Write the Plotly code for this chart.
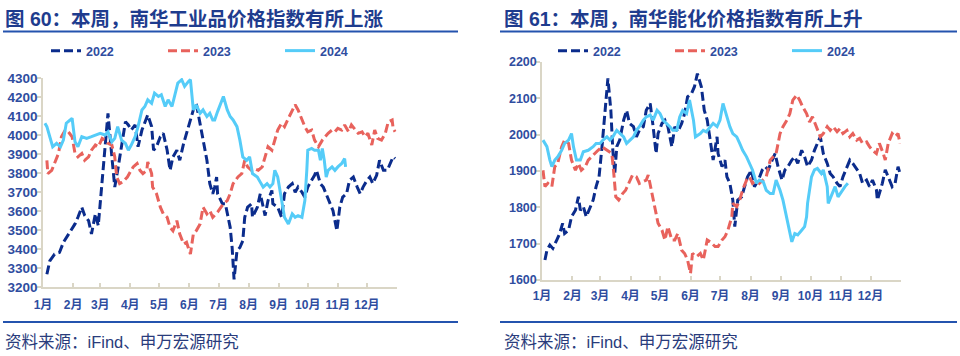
import plotly.graph_objects as go

# ---------------- data ----------------
month_labels = ["1月", "2月", "3月", "4月", "5月", "6月", "7月", "8月", "9月", "10月", "11月", "12月", ""]
month_start_days = [0, 31, 59, 90, 120, 151, 181, 212, 243, 273, 304, 334, 365]

# 南华工业品指数 (left panel)
ind22_day = [4,7,12,17,21,24,28,33,36,40,43,47,50,54,57,59,62,65,67,71,74,77,81,85,88,91,95,98,102,105,
             108,112,114,117,121,124,128,131,134,138,141,145,148,152,155,158,162,167,169,172,175,177,179,180,185,188,191,193,195,196,
             197,200,203,206,208,211,215,216,221,224,227,229,232,236,237,242,246,249,253,257,260,263,267,270,273,277,280,282,286,289,
             293,296,299,303,306,309,313,316,320,324,327,330,334,337,340,344,347,351,355,358,361,363]
ind22_val = [3267,3337,3373,3382,3435,3461,3496,3532,3567,3620,3576,3549,3479,3585,3523,3638,3797,3991,4114,3885,
             3726,3814,3938,4070,4053,4026,4053,3938,4026,4062,4106,4044,3920,3938,3991,4009,3920,3814,3885,3920,
             3867,3956,4009,4079,4132,4167,4061,3938,3867,3744,3691,3726,3779,3691,3638,3638,3567,3514,3408,3302,
             3240,3390,3408,3443,3567,3620,3638,3567,3620,3691,3620,3576,3655,3708,3638,3620,3567,3691,3726,3744,
             3699,3726,3699,3673,3726,3761,3788,3814,3744,3726,3673,3638,3602,3496,3620,3673,3691,3761,3779,3726,
             3691,3726,3761,3779,3744,3788,3867,3814,3814,3850,3885,3876]

ind23_day = [4,5,9,12,16,19,23,26,30,33,36,40,43,47,50,54,57,61,64,67,71,74,76,79,82,87,90,93,97,100,
             103,107,108,112,113,117,121,124,128,131,134,138,141,145,148,152,155,158,162,165,169,172,175,180,186,190,193,196,201,205,
             208,211,215,218,222,226,229,232,236,239,242,246,249,253,257,260,263,267,270,273,277,280,284,288,291,294,298,301,304,308,
             311,315,318,322,325,329,332,335,339,342,345,349,353,356,360,361,363]
ind23_val = [3867,3797,3814,3850,3903,3991,4026,4017,3991,3903,3885,3903,3867,3885,3920,3947,3938,3982,3973,3956,
             3947,3885,3779,3744,3752,3779,3805,3832,3850,3814,3797,3814,3858,3797,3726,3691,3620,3585,3567,3514,
             3496,3549,3479,3426,3435,3373,3479,3496,3532,3620,3585,3602,3567,3594,3638,3655,3691,3744,3779,3797,
             3867,3832,3814,3823,3814,3832,3885,3938,3920,3973,4026,4062,4044,4088,4132,4159,4132,4079,4044,4017,
             4026,3973,3938,3973,3991,4009,4026,4017,4035,4026,4053,4017,4053,4026,4009,4017,3991,4009,3947,4026,
             3982,3973,4009,4070,4079,4035,4017]

ind24_day = [2,4,7,10,14,18,21,24,28,30,33,36,40,45,50,54,59,64,67,71,74,77,81,85,88,91,95,98,102,105,
             108,112,115,119,122,126,129,133,136,139,143,146,150,152,155,158,162,165,169,172,175,177,180,184,186,190,193,196,200,203,
             206,210,213,216,221,224,227,231,234,237,239,242,246,249,253,257,260,263,267,270,272,273,277,280,284,286,288,290,292,294,
             298,301,304,308,311,312]
ind24_val = [4062,4044,3991,3938,3956,3938,3973,4062,4079,4088,3964,3938,3991,3982,3991,4000,4009,4000,4017,3964,
             3982,4044,3973,3956,3920,3947,3991,4044,4132,4150,4185,4167,4220,4203,4212,4150,4185,4150,4220,4273,
             4291,4256,4282,4291,4132,4159,4114,4132,4097,4114,4079,4079,4123,4176,4203,4132,4097,4079,4044,3973,
             3885,3867,3885,3797,3779,3752,3726,3744,3726,3744,3814,3779,3655,3567,3532,3585,3567,3576,3567,3655,
             3814,3920,3929,3920,3920,3867,3929,3867,3779,3814,3832,3814,3832,3850,3876,3832]

# 南华能化指数 (right panel)
en22_day = [3,5,8,11,15,18,21,23,27,30,34,37,39,42,45,49,52,55,58,61,64,67,70,72,74,76,79,83,86,89,
            93,96,99,103,106,110,113,116,118,122,125,128,132,135,138,142,145,148,152,155,158,162,165,168,171,174,178,179,183,186,
            188,191,194,196,199,203,206,209,213,216,220,224,227,230,234,237,240,244,247,250,254,257,260,264,267,270,274,277,280,283,
            286,290,293,296,300,303,306,310,313,316,320,323,326,330,333,336,340,341,346,349,352,356,359,362,364]
en22_val = [1655,1682,1696,1687,1710,1728,1756,1728,1737,1774,1792,1829,1792,1802,1774,1802,1820,1857,1884,1967,
            2067,2155,2067,1957,1893,1967,1985,2040,2067,2031,2022,1994,2012,2022,2067,2086,2022,1948,2003,2031,
            2040,2022,1967,2022,2008,2031,2058,2104,2113,2132,2168,2132,2067,2040,1985,1930,1994,1948,1912,1930,
            1884,1866,1820,1747,1820,1829,1857,1884,1903,1857,1875,1903,1912,1903,1930,1948,1912,1875,1903,1912,
            1930,1939,1921,1957,1939,1912,1930,1957,1976,1994,1948,1921,1893,1884,1866,1857,1884,1912,1930,1921,
            1903,1893,1866,1875,1857,1875,1848,1820,1866,1903,1884,1857,1866,1912,1893]

en23_day = [1,3,6,10,13,16,20,23,27,30,34,37,40,44,47,50,54,57,61,64,67,71,73,75,78,82,85,88,92,96,
            99,102,106,108,112,115,118,122,125,128,132,135,138,142,145,148,151,153,157,161,164,168,171,176,179,183,186,189,193,194,
            198,201,204,208,211,214,218,221,225,228,232,235,238,242,245,249,252,255,259,262,265,269,272,275,279,283,286,290,293,296,
            300,303,306,310,313,316,320,323,326,330,333,336,340,343,347,349,352,356,359,362,364]
en23_val = [1902,1857,1866,1857,1912,1921,1967,1985,1976,1930,1902,1921,1902,1912,1930,1939,1948,1957,1967,1962,
            1957,1948,1893,1829,1820,1838,1847,1866,1889,1884,1866,1870,1875,1889,1838,1792,1756,1737,1710,1747,
            1710,1710,1728,1682,1673,1655,1618,1673,1664,1673,1655,1710,1705,1692,1692,1710,1719,1737,1774,1811,
            1802,1820,1848,1875,1884,1866,1875,1866,1875,1884,1930,1939,1948,2003,2022,2040,2058,2095,2109,2095,
            2077,2058,2035,2049,2022,1994,2003,2022,2012,2022,2008,2017,2003,2012,1994,2003,1985,1990,1976,1980,
            1967,1957,1948,1976,1948,1930,1976,2003,1994,2003,1976]

en24_day = [1,5,8,10,13,16,20,23,27,30,32,35,39,42,47,52,55,59,62,66,69,72,76,79,83,86,89,93,96,99,
            103,106,110,113,117,120,123,127,130,133,137,140,143,147,150,154,156,161,164,167,171,174,178,181,184,188,191,194,198,201,
            204,208,211,214,218,221,225,228,232,235,238,242,245,249,252,254,257,260,264,267,269,270,274,277,280,284,286,290,291,295,
            298,301,305,308,311]
en24_val = [1985,1967,1930,1912,1930,1939,1957,1976,1985,2003,1967,1930,1930,1953,1957,1967,1976,1976,1985,1994,
            1985,1994,2012,2003,1994,1976,1985,1994,2012,2022,2040,2049,2054,2040,2067,2058,2040,2031,2022,2012,
            2012,2049,2067,2058,2095,2040,1994,2003,2012,2008,2022,2031,2022,2040,2086,2049,2022,2003,1994,1976,
            1957,1939,1921,1903,1866,1875,1870,1847,1838,1838,1875,1847,1820,1765,1728,1705,1728,1724,1737,1747,
            1774,1811,1884,1903,1907,1893,1903,1857,1811,1838,1857,1829,1847,1857,1866]

series_names = ["2022", "2023", "2024"]

# ---------------- style ----------------
W, H = 960, 356
C22, C23, C24 = "#0B2C8C", "#E8625C", "#55CCF8"
TICK_C = "#2F4D9F"
AXIS_C = "#DAD6C6"
TITLE_C = "#1E3C8E"
RULE_C = "#2453AE"
FONT = "Liberation Sans, Arial, Noto Sans CJK SC, sans-serif"

def px(x):
    return x / W

def py(y):
    return 1 - y / H

styles = [
    dict(color=C22, dash="9px,4px", width=3),
    dict(color=C23, dash="9px,4px", width=3),
    dict(color=C24, dash="solid", width=3),
]

fig = go.Figure()

left = [(ind22_day, ind22_val), (ind23_day, ind23_val), (ind24_day, ind24_val)]
right = [(en22_day, en22_val), (en23_day, en23_val), (en24_day, en24_val)]

for (d, v), name, st in zip(left, series_names, styles):
    fig.add_trace(go.Scatter(x=d, y=v, mode="lines", name=name, line=st,
                             xaxis="x", yaxis="y", legend="legend"))
for (d, v), name, st in zip(right, series_names, styles):
    fig.add_trace(go.Scatter(x=d, y=v, mode="lines", name=name, line=st,
                             xaxis="x2", yaxis="y2", legend="legend2"))

xcommon = dict(range=[0, 365], tickmode="array", tickvals=month_start_days, ticktext=month_labels,
               tickangle=0,
               showline=True, linecolor=AXIS_C, linewidth=1.5, ticks="inside", ticklen=4,
               tickcolor=AXIS_C, tickwidth=1.5, showgrid=False, zeroline=False,
               tickfont=dict(family=FONT, size=12, color=TICK_C, weight="bold"))
ycommon = dict(showline=True, linecolor=AXIS_C, linewidth=1.5, ticks="outside", ticklen=4,
               tickcolor=AXIS_C, tickwidth=1.5, showgrid=False, zeroline=False,
               ticklabelstandoff=-3)

legcommon = dict(orientation="h", yanchor="middle", xanchor="left", entrywidth=72,
                 entrywidthmode="pixels", bgcolor="rgba(0,0,0,0)", borderwidth=0,
                 font=dict(family=FONT, size=12.5, color=TICK_C, weight="bold"), traceorder="normal")

fig.update_layout(
    width=W, height=H, autosize=False,
    margin=dict(l=0, r=0, t=0, b=0, autoexpand=False),
    paper_bgcolor="white", plot_bgcolor="white",
    showlegend=True,
    xaxis=dict(domain=[px(43), px(397)], anchor="y", ticklabelstandoff=6, **xcommon),
    yaxis=dict(domain=[py(287), py(78)], anchor="x", range=[3200, 4300], dtick=100,
               tickfont=dict(family=FONT, size=13.5, color=TICK_C, weight="bold"), **ycommon),
    xaxis2=dict(domain=[px(542), px(901)], anchor="y2", ticklabelstandoff=4, **xcommon),
    yaxis2=dict(domain=[py(280), py(62)], anchor="x2", range=[1600, 2200], dtick=100,
                tickfont=dict(family=FONT, size=12.5, color=TICK_C, weight="bold"), **ycommon),
    legend=dict(x=px(46), y=py(51), **legcommon),
    legend2=dict(x=px(553), y=py(51), **legcommon),
)

# titles
titles = [("图 60：本周，南华工业品价格指数有所上涨", 3), ("图 61：本周，南华能化价格指数有所上升", 502)]
for text, x0 in titles:
    fig.add_annotation(text="<b>" + text + "</b>", x=px(x0), y=py(18.5), xref="paper", yref="paper",
                       xanchor="left", yanchor="middle", showarrow=False,
                       font=dict(family=FONT, size=19.5, color=TITLE_C))

# sources
for x0 in (3, 502):
    fig.add_annotation(text="资料来源：iFind、申万宏源研究", x=px(x0), y=py(342), xref="paper", yref="paper",
                       xanchor="left", yanchor="middle", showarrow=False,
                       font=dict(family=FONT, size=16.5, color="#2A3C7C"))

# rules
for (a, b) in ((3, 458), (500, 957)):
    for yy in (31.5, 322):
        fig.add_shape(type="line", xref="paper", yref="paper", x0=px(a), x1=px(b), y0=py(yy), y1=py(yy),
                      line=dict(color=RULE_C, width=2))

fig.write_html("out.html", config={"displayModeBar": False},
               post_script="document.body.style.margin='0';document.body.style.overflow='hidden';")
